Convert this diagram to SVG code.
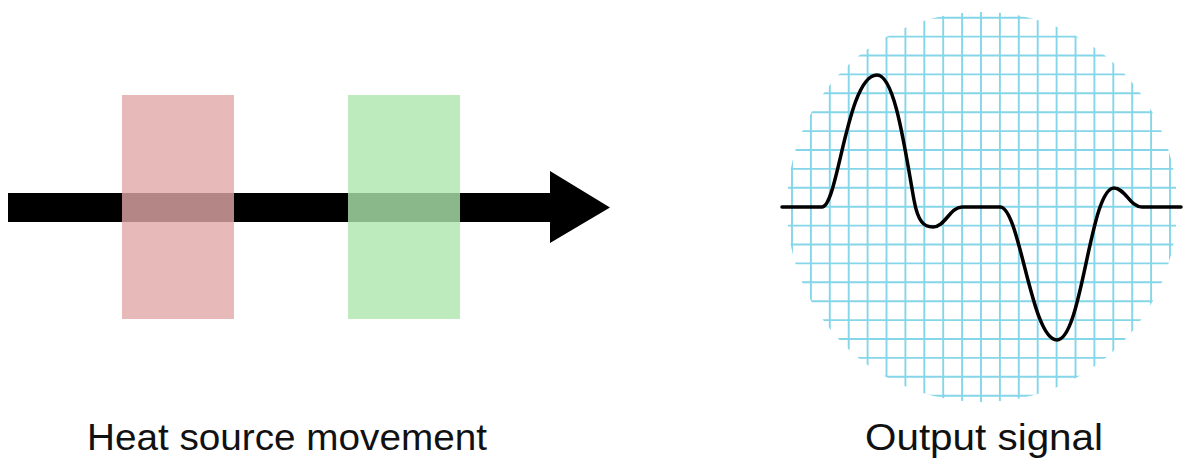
<svg xmlns="http://www.w3.org/2000/svg" width="1183" height="466" viewBox="0 0 1183 466">
  <style>
    .label { font-family: "Liberation Sans", Arial, Helvetica, sans-serif; font-size: 36px; fill: #111111; }
    .grid line { stroke: #84d6e8; stroke-width: 1.9; }
    .axis { stroke: #6ecde2; stroke-width: 2.2; }
    .src { opacity: 0.8; }
  </style>
  <defs>
    <clipPath id="disc">
      <circle cx="982" cy="207" r="195"/>
    </clipPath>
  </defs>
  <rect width="1183" height="466" fill="#ffffff"/>

  <g id="connectors">
    <path id="movement-arrow" d="M 8 193 H 550 V 171 L 610 207.5 L 550 243 V 222 H 8 Z" fill="#000000"/>
  </g>

  <g id="source-red">
    <rect class="src" x="122" y="95" width="112" height="224" fill="rgb(226,168,168)"/>
  </g>
  <g id="source-green">
    <rect class="src" x="348" y="95" width="112" height="224" fill="rgb(172,230,172)"/>
  </g>

  <g id="output-plot">
    <g class="grid" clip-path="url(#disc)">
      <line x1="792" y1="0" x2="792" y2="466"/>
      <line x1="810.9" y1="0" x2="810.9" y2="466"/>
      <line x1="829.8" y1="0" x2="829.8" y2="466"/>
      <line x1="848.7" y1="0" x2="848.7" y2="466"/>
      <line x1="867.6" y1="0" x2="867.6" y2="466"/>
      <line x1="886.5" y1="0" x2="886.5" y2="466"/>
      <line x1="905.4" y1="0" x2="905.4" y2="466"/>
      <line x1="924.3" y1="0" x2="924.3" y2="466"/>
      <line x1="943.2" y1="0" x2="943.2" y2="466"/>
      <line x1="962.1" y1="0" x2="962.1" y2="466"/>
      <line x1="999.9" y1="0" x2="999.9" y2="466"/>
      <line x1="1018.8" y1="0" x2="1018.8" y2="466"/>
      <line x1="1037.7" y1="0" x2="1037.7" y2="466"/>
      <line x1="1056.6" y1="0" x2="1056.6" y2="466"/>
      <line x1="1075.5" y1="0" x2="1075.5" y2="466"/>
      <line x1="1094.4" y1="0" x2="1094.4" y2="466"/>
      <line x1="1113.3" y1="0" x2="1113.3" y2="466"/>
      <line x1="1132.2" y1="0" x2="1132.2" y2="466"/>
      <line x1="1151.1" y1="0" x2="1151.1" y2="466"/>
      <line x1="1170" y1="0" x2="1170" y2="466"/>
      <line x1="780" y1="17.7" x2="1183" y2="17.7"/>
      <line x1="780" y1="36.6" x2="1183" y2="36.6"/>
      <line x1="780" y1="55.5" x2="1183" y2="55.5"/>
      <line x1="780" y1="74.4" x2="1183" y2="74.4"/>
      <line x1="780" y1="93.3" x2="1183" y2="93.3"/>
      <line x1="780" y1="112.2" x2="1183" y2="112.2"/>
      <line x1="780" y1="131.1" x2="1183" y2="131.1"/>
      <line x1="780" y1="150" x2="1183" y2="150"/>
      <line x1="780" y1="168.9" x2="1183" y2="168.9"/>
      <line x1="780" y1="187.8" x2="1183" y2="187.8"/>
      <line x1="780" y1="225.6" x2="1183" y2="225.6"/>
      <line x1="780" y1="244.5" x2="1183" y2="244.5"/>
      <line x1="780" y1="263.4" x2="1183" y2="263.4"/>
      <line x1="780" y1="282.3" x2="1183" y2="282.3"/>
      <line x1="780" y1="301.2" x2="1183" y2="301.2"/>
      <line x1="780" y1="320.1" x2="1183" y2="320.1"/>
      <line x1="780" y1="339" x2="1183" y2="339"/>
      <line x1="780" y1="357.9" x2="1183" y2="357.9"/>
      <line x1="780" y1="376.8" x2="1183" y2="376.8"/>
      <line x1="780" y1="395.7" x2="1183" y2="395.7"/>
      <line class="axis" x1="981" y1="0" x2="981" y2="466"/>
      <line class="axis" x1="780" y1="206.7" x2="1183" y2="206.7"/>
    </g>
    <path id="signal" d="M 782 207 L 822 207 C 838 207, 847 75, 877 75 C 895 75, 905 150, 914 200 C 918 222, 924 227, 933 227 C 945 227, 950 207, 962 207 L 1000 207 C 1020 207, 1031 340, 1057 340 C 1082 340, 1090 188, 1114 188 C 1125 188, 1130 207, 1142 207 L 1181 207" fill="none" stroke="#000000" stroke-width="3.5" stroke-linejoin="round" stroke-linecap="round"/>
  </g>

  <g id="label-movement">
    <text class="label" x="87" y="450" textLength="400" lengthAdjust="spacingAndGlyphs">Heat source movement</text>
  </g>
  <g id="label-output">
    <text class="label" x="865" y="450" textLength="238" lengthAdjust="spacingAndGlyphs">Output signal</text>
  </g>
</svg>
